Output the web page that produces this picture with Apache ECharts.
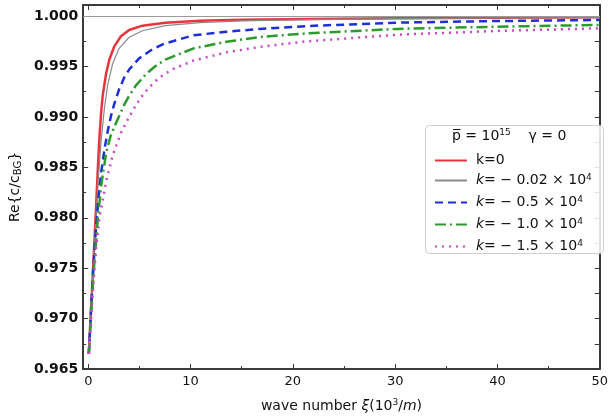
<!DOCTYPE html>
<html>
<head>
<meta charset="utf-8">
<script src="https://cdn.jsdelivr.net/npm/echarts@6/dist/echarts.min.js"></script>
<style>
  html, body { margin: 0; padding: 0; background: #fff; }
  #main { width: 611px; height: 418px; }
</style>
</head>
<body>
<div id="main"></div>
<script>
// curves, [xi, Re{c/cBG}]
var kZero = [[0.05,0.9665],[0.35,0.9725],[0.65,0.9787],[0.94,0.9850],[1.09,0.9880],[1.26,0.9905],[1.42,0.9922],[1.74,0.9943],[2.06,0.9957],[2.54,0.9970],[3.19,0.9980],[3.99,0.99862],[5.29,0.99905],[7.54,0.99935],[10.9,0.99953],[15,0.99963],[21.5,0.99971],[30.2,0.99979],[40,0.99984],[50,0.99988]];
var kM002 = [[0.05,0.9665],[0.35,0.9722],[0.65,0.9780],[0.94,0.9833],[1.26,0.9877],[1.57,0.9908],[1.90,0.9932],[2.39,0.9953],[3.02,0.9968],[3.99,0.9979],[5.29,0.99855],[7.54,0.99905],[10.9,0.99935],[15,0.99952],[21.5,0.99965],[30.2,0.99975],[40,0.99981],[50,0.99985]];
var kM05 = [[0.05,0.9665],[0.3,0.9715],[0.5,0.9752],[0.77,0.9792],[1.0,0.9820],[1.26,0.9845],[1.6,0.9869],[1.9,0.9886],[2.22,0.9901],[2.54,0.9913],[3.02,0.99275],[3.51,0.9939],[3.99,0.9947],[4.96,0.9958],[6.25,0.9967],[7.37,0.99725],[10.3,0.9981],[13.5,0.99845],[16.7,0.99872],[21.5,0.99902],[30.2,0.99935],[40,0.99951],[50,0.99961]];
var kM10 = [[0.05,0.9665],[0.3,0.9712],[0.6,0.9757],[0.94,0.9800],[1.26,0.9832],[1.74,0.9864],[2.2,0.9882],[2.71,0.9894],[3.02,0.9901],[3.51,0.9912],[3.99,0.9921],[4.64,0.9931],[5.60,0.9942],[6.57,0.99505],[7.54,0.99569],[10.3,0.9968],[13.5,0.99745],[16.7,0.99792],[21.5,0.9983],[30.2,0.99873],[40,0.99895],[50,0.99912]];
var kM15 = [[0.05,0.9665],[0.3,0.9705],[0.5,0.9735],[0.77,0.9770],[1.09,0.9800],[1.74,0.9836],[2.39,0.9862],[3.19,0.9884],[3.99,0.9900],[4.47,0.99085],[5.12,0.9919],[5.92,0.9929],[6.57,0.99355],[7.37,0.9942],[8.3,0.99475],[10.3,0.9956],[13.5,0.9964],[16.7,0.99693],[21.2,0.99748],[30.2,0.99815],[40,0.99853],[50,0.99879]];
var refLevel = [1.0];

var seriesNames = ['k0', 'k002', 'k05', 'k10', 'k15'];
var legendText = {
  k0: 'k=0',
  k002: '{i|k}= − 0.02 × 10{s|4}',
  k05: '{i|k}= − 0.5 × 10{s|4}',
  k10: '{i|k}= − 1.0 × 10{s|4}',
  k15: '{i|k}= − 1.5 × 10{s|4}'
};

var xMajor = [0, 10, 20, 30, 40, 50];
var xMinor = [5, 15, 25, 35, 45];
var yMajor = [0.965, 0.970, 0.975, 0.980, 0.985, 0.990, 0.995, 1.000];
var yMinor = [0.9675, 0.9725, 0.9775, 0.9825, 0.9875, 0.9925, 0.9975];

var font = 'DejaVu Sans';
var frame = '#3a3a3a';

function xAx(pos, ticks, len, line, labels) {
  return {
    type: 'value', position: pos, min: -0.5, max: 50,
    axisLine: { show: line, onZero: false, lineStyle: { color: frame, width: 2 } },
    axisTick: { show: true, inside: true, length: len, customValues: ticks, lineStyle: { color: frame, width: 1 } },
    axisLabel: { show: labels, customValues: ticks, color: '#111', fontFamily: font, fontSize: 13, margin: 6 },
    splitLine: { show: false }
  };
}
function yAx(pos, ticks, len, line, labels) {
  return {
    type: 'value', position: pos, min: 0.965, max: 1.0011,
    axisLine: { show: line, onZero: false, lineStyle: { color: frame, width: 2 } },
    axisTick: { show: true, inside: true, length: len, customValues: ticks, lineStyle: { color: frame, width: 1 } },
    axisLabel: { show: labels, customValues: ticks, color: '#111', fontFamily: font, fontSize: 14, fontWeight: 'bold', margin: 5,
      formatter: function (v) { return v.toFixed(3); } },
    splitLine: { show: false }
  };
}

var xb = xAx('bottom', xMajor, 5, true, true);
xb.name = 'wave number {i|ξ}(10{s|3}/{i|m})';
xb.nameLocation = 'middle';
xb.nameGap = 29;
xb.nameTextStyle = { color: '#111', fontFamily: font, fontSize: 14,
  rich: { i: { fontStyle: 'italic', fontFamily: font, fontSize: 14 }, s: { fontSize: 9, fontFamily: font, verticalAlign: 'top', padding: [0, 0, 7, 0] } } };

var yl = yAx('left', yMajor, 5, true, true);
yl.name = 'Re{c/c{b|BG}}';
yl.nameLocation = 'middle';
yl.nameGap = 51;
yl.nameRotate = 90;
yl.nameTextStyle = { color: '#111', fontFamily: font, fontSize: 14,
  rich: { b: { fontSize: 10, fontFamily: font, verticalAlign: 'bottom', padding: [6, 0, 0, 0] } } };

function curve(name, data, color, width, type) {
  return {
    name: name, type: 'line', data: data, smooth: false,
    symbol: 'none', xAxisIndex: 0, yAxisIndex: 0, z: 3,
    lineStyle: { color: color, width: width, type: type, join: 'round' },
    itemStyle: { color: color }
  };
}

var option = {
  backgroundColor: '#fff',
  animation: false,
  grid: { left: 83, right: 6, top: 5, bottom: 45 },
  xAxis: [
    xb,
    xAx('bottom', xMinor, 3, false, false),
    xAx('top', xMajor, 5, true, false),
    xAx('top', xMinor, 3, false, false)
  ],
  yAxis: [
    yl,
    yAx('left', yMinor, 3, false, false),
    yAx('right', yMajor, 5, true, false),
    yAx('right', yMinor, 5, false, false)
  ],
  legend: {
    data: seriesNames,
    orient: 'vertical',
    left: 429, top: 148,
    itemWidth: 32, itemHeight: 14, itemGap: 5,
    itemStyle: { opacity: 0 },
    formatter: function (n) { return legendText[n]; },
    textStyle: { color: '#111', fontFamily: font, fontSize: 14, lineHeight: 15, padding: [0, 0, 0, 4],
      rich: { i: { fontStyle: 'italic', fontFamily: font, fontSize: 14, lineHeight: 15 }, s: { fontSize: 9, lineHeight: 15, fontFamily: font, verticalAlign: 'top', padding: [0, 0, 8, 0] } } },
    z: 10
  },
  graphic: [
    { type: 'rect', left: 425, top: 125, z: 5,
      shape: { width: 178, height: 128, r: 4 },
      style: { fill: 'rgba(255,255,255,0.85)', stroke: '#cfcfcf', lineWidth: 1 } },
    { type: 'text', left: 452, top: 128, z: 11,
      style: { text: 'p̅ = 10{s|15}    γ = 0', fill: '#111', font: '14px "DejaVu Sans"',
        rich: { s: { fontSize: 9, fontFamily: font, verticalAlign: 'top', padding: [0, 0, 8, 0] } } } }
  ],
  series: [
    {
      name: 'ref', type: 'line', data: [], xAxisIndex: 0, yAxisIndex: 0,
      markLine: { silent: true, symbol: 'none', label: { show: false },
        lineStyle: { color: '#9a9a9a', width: 1, type: 'solid' },
        data: refLevel.map(function (v) { return { yAxis: v }; }) }
    },
    curve('k0', kZero, '#e8343c', 2.5, 'solid'),
    curve('k002', kM002, '#8a8a8a', 1.2, 'solid'),
    curve('k05', kM05, '#1c2fd8', 2.5, [8, 5]),
    curve('k10', kM10, '#2c9a2c', 2.5, [11, 4, 2, 4]),
    curve('k15', kM15, '#cc44cc', 2.5, [2, 5])
  ]
};

var chart = echarts.init(document.getElementById('main'));
chart.setOption(option);
</script>
</body>
</html>
